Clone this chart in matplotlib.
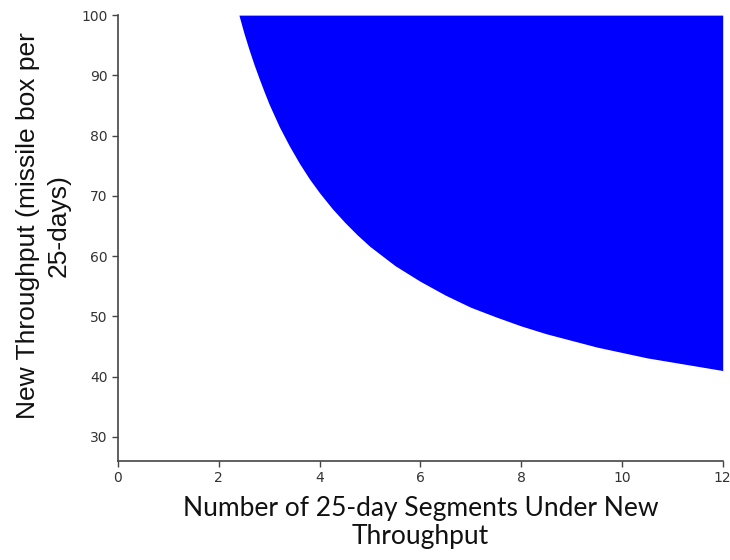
import matplotlib
matplotlib.use("Agg")
import matplotlib.pyplot as plt

# Boundary of the feasible region
segments = [2.4, 2.5, 2.6, 2.7, 2.8, 2.9, 3.0, 3.2, 3.4, 3.6, 3.8, 4.0, 4.25, 4.5, 4.75,
            5.0, 5.5, 6.0, 6.5, 7.0, 7.5, 8.0, 8.5, 9.0, 9.5, 10.0, 10.5, 11.0, 11.5, 12.0]
min_throughput = [100, 97, 94.3, 91.8, 89.5, 87.3, 85.2, 81.5, 78.3, 75.4, 72.8, 70.5, 67.9,
                  65.6, 63.5, 61.6, 58.4, 55.8, 53.5, 51.5, 49.9, 48.4, 47.1, 46.0, 44.9,
                  44.0, 43.1, 42.4, 41.7, 41.0]
upper_limit = 100

x_ticks = [0, 2, 4, 6, 8, 10, 12]
y_ticks = [30, 40, 50, 60, 70, 80, 90, 100]

fig = plt.figure(figsize=(7.3, 5.6), dpi=100)
ax = fig.add_axes([0.1616, 0.177, 0.8284, 0.796])

ax.fill_between(segments, min_throughput, upper_limit, color="#0000ff", linewidth=0)

ax.set_xlim(0, 12)
ax.set_ylim(26, 100)
ax.set_xticks(x_ticks)
ax.set_yticks(y_ticks)

for s in ["top", "right"]:
    ax.spines[s].set_visible(False)
for s in ["left", "bottom"]:
    ax.spines[s].set_color("#444444")
    ax.spines[s].set_linewidth(1.2)
ax.tick_params(colors="#444444", labelsize=10, labelcolor="#333333", length=4, width=1)

ax.set_xlabel("Number of 25-day Segments Under New\nThroughput", fontsize=19,
              family=["Lato", "DejaVu Sans"], linespacing=1.15, color="#111111")
ax.xaxis.set_label_coords(0.5, -0.078, transform=ax.transAxes)
ax.xaxis.label.set_verticalalignment("top")

ax.set_ylabel("New Throughput (missile box per\n25-days)", fontsize=19,
              family=["Liberation Sans", "DejaVu Sans"], linespacing=1.35, color="#111111")
ax.yaxis.set_label_coords(-0.079, 0.529, transform=ax.transAxes)

fig.savefig("out.png", dpi=100)
